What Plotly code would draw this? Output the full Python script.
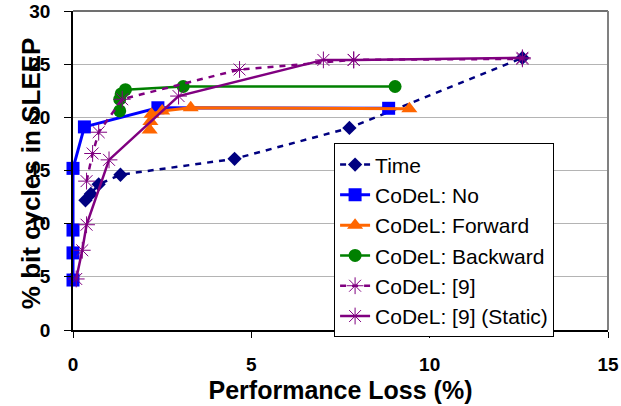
import plotly.graph_objects as go

time_x = [0.35, 0.5, 0.72, 1.33, 4.53, 7.75, 12.6]
time_y = [12.2, 12.8, 13.7, 14.6, 16.1, 19.0, 25.6]

no_x = [0, 0, 0, 0, 0.32, 2.38, 8.85]
no_y = [4.7, 7.25, 9.4, 15.2, 19.1, 20.9, 20.85]

fwd_x = [2.15, 2.17, 2.2, 2.5, 3.3, 9.43]
fwd_y = [18.8, 19.6, 20.3, 20.6, 20.9, 20.8]

bwd_x = [1.31, 1.31, 1.35, 1.47, 3.09, 9.03]
bwd_y = [20.6, 21.7, 22.2, 22.6, 22.9, 22.9]

c9_x = [0.38, 0.55, 0.72, 1.38, 4.67, 7.87, 12.6]
c9_y = [14.0, 16.6, 18.6, 21.7, 24.5, 25.4, 25.5]

st_x = [0.09, 0.26, 0.38, 1.01, 2.96, 7.02, 7.87, 12.6]
st_y = [4.8, 7.5, 9.9, 16.0, 22.0, 25.4, 25.4, 25.6]

x_ticks = [0, 5, 10, 15]
y_ticks = [0, 5, 10, 15, 20, 25, 30]

x_title = "Performance Loss (%)"
y_title = "% bit cycles in SLEEP"

FONT = "Liberation Sans, Arial, sans-serif"

fig = go.Figure()
fig.add_trace(go.Scatter(x=time_x, y=time_y, name="Time", mode="lines+markers",
                         line=dict(color="#000080", width=2.5, dash="6px,6px"),
                         marker=dict(symbol="diamond", size=11, color="#000080")))
fig.add_trace(go.Scatter(x=no_x, y=no_y, name="CoDeL: No", mode="lines+markers",
                         line=dict(color="#0000FF", width=3),
                         marker=dict(symbol="square", size=13, color="#0000FF")))
fig.add_trace(go.Scatter(x=fwd_x, y=fwd_y, name="CoDeL: Forward", mode="lines+markers",
                         line=dict(color="#FF6600", width=3),
                         marker=dict(symbol="triangle-up", size=14, color="#FF6600")))
fig.add_trace(go.Scatter(x=bwd_x, y=bwd_y, name="CoDeL: Backward", mode="lines+markers",
                         line=dict(color="#008000", width=2.5),
                         marker=dict(symbol="circle", size=13, color="#008000")))
fig.add_trace(go.Scatter(x=c9_x, y=c9_y, name="CoDeL: [9]", mode="lines+markers",
                         line=dict(color="#800080", width=2.5, dash="6px,6px"),
                         marker=dict(symbol="asterisk-open", size=14,
                                     line=dict(color="#800080", width=1))))
fig.add_trace(go.Scatter(x=st_x, y=st_y, name="CoDeL: [9] (Static)", mode="lines+markers",
                         line=dict(color="#800080", width=2.5),
                         marker=dict(symbol="asterisk-open", size=14,
                                     line=dict(color="#800080", width=1))))
fig.update_traces(cliponaxis=False)

fig.update_layout(
    width=621, height=406,
    margin=dict(l=72.5, r=13, t=10.5, b=76),
    paper_bgcolor="white", plot_bgcolor="white",
    font=dict(family=FONT, color="black"),
    showlegend=True,
    legend=dict(x=0.488, y=0.585, xanchor="left", yanchor="top",
                bgcolor="white", bordercolor="black", borderwidth=1,
                font=dict(size=21, family=FONT), tracegroupgap=0,
                itemwidth=30),
    xaxis=dict(range=[0, 15], tickvals=x_ticks, ticks="outside", ticklen=6,
               tickcolor="black", showline=True, linecolor="black", linewidth=1.5,
               showgrid=False, zeroline=False, automargin=False,
               ticklabelstandoff=10, ticklabeloverflow="allow",
               tickfont=dict(size=19, family=FONT, weight="bold"),
               title=dict(text="<b>" + x_title + "</b>", font=dict(size=25), standoff=8)),
    yaxis=dict(range=[0, 30], tickvals=y_ticks, ticks="outside", ticklen=7,
               tickcolor="black", showline=True, linecolor="black", linewidth=1.5,
               showgrid=True, gridcolor="#b4b4b4", gridwidth=1, zeroline=False,
               ticklabelstandoff=10, ticklabeloverflow="allow", automargin=False,
               tickfont=dict(size=19, family=FONT, weight="bold")),
    annotations=[
        dict(text="<b>" + y_title + "</b>", xref="paper", yref="paper",
             x=-0.0794, y=0.49, xanchor="center", yanchor="middle",
             textangle=-90, showarrow=False, font=dict(size=26, family=FONT)),
    ],
    shapes=[
        dict(type="line", xref="paper", yref="paper", x0=0, x1=1, y0=1, y1=1,
             line=dict(color="#404040", width=1.5)),
        dict(type="line", xref="paper", yref="paper", x0=1, x1=1, y0=0, y1=1,
             line=dict(color="#808080", width=2)),
    ],
)

fig.write_html("out.html", config={"displayModeBar": False},
               post_script="document.body.style.margin='0';")
